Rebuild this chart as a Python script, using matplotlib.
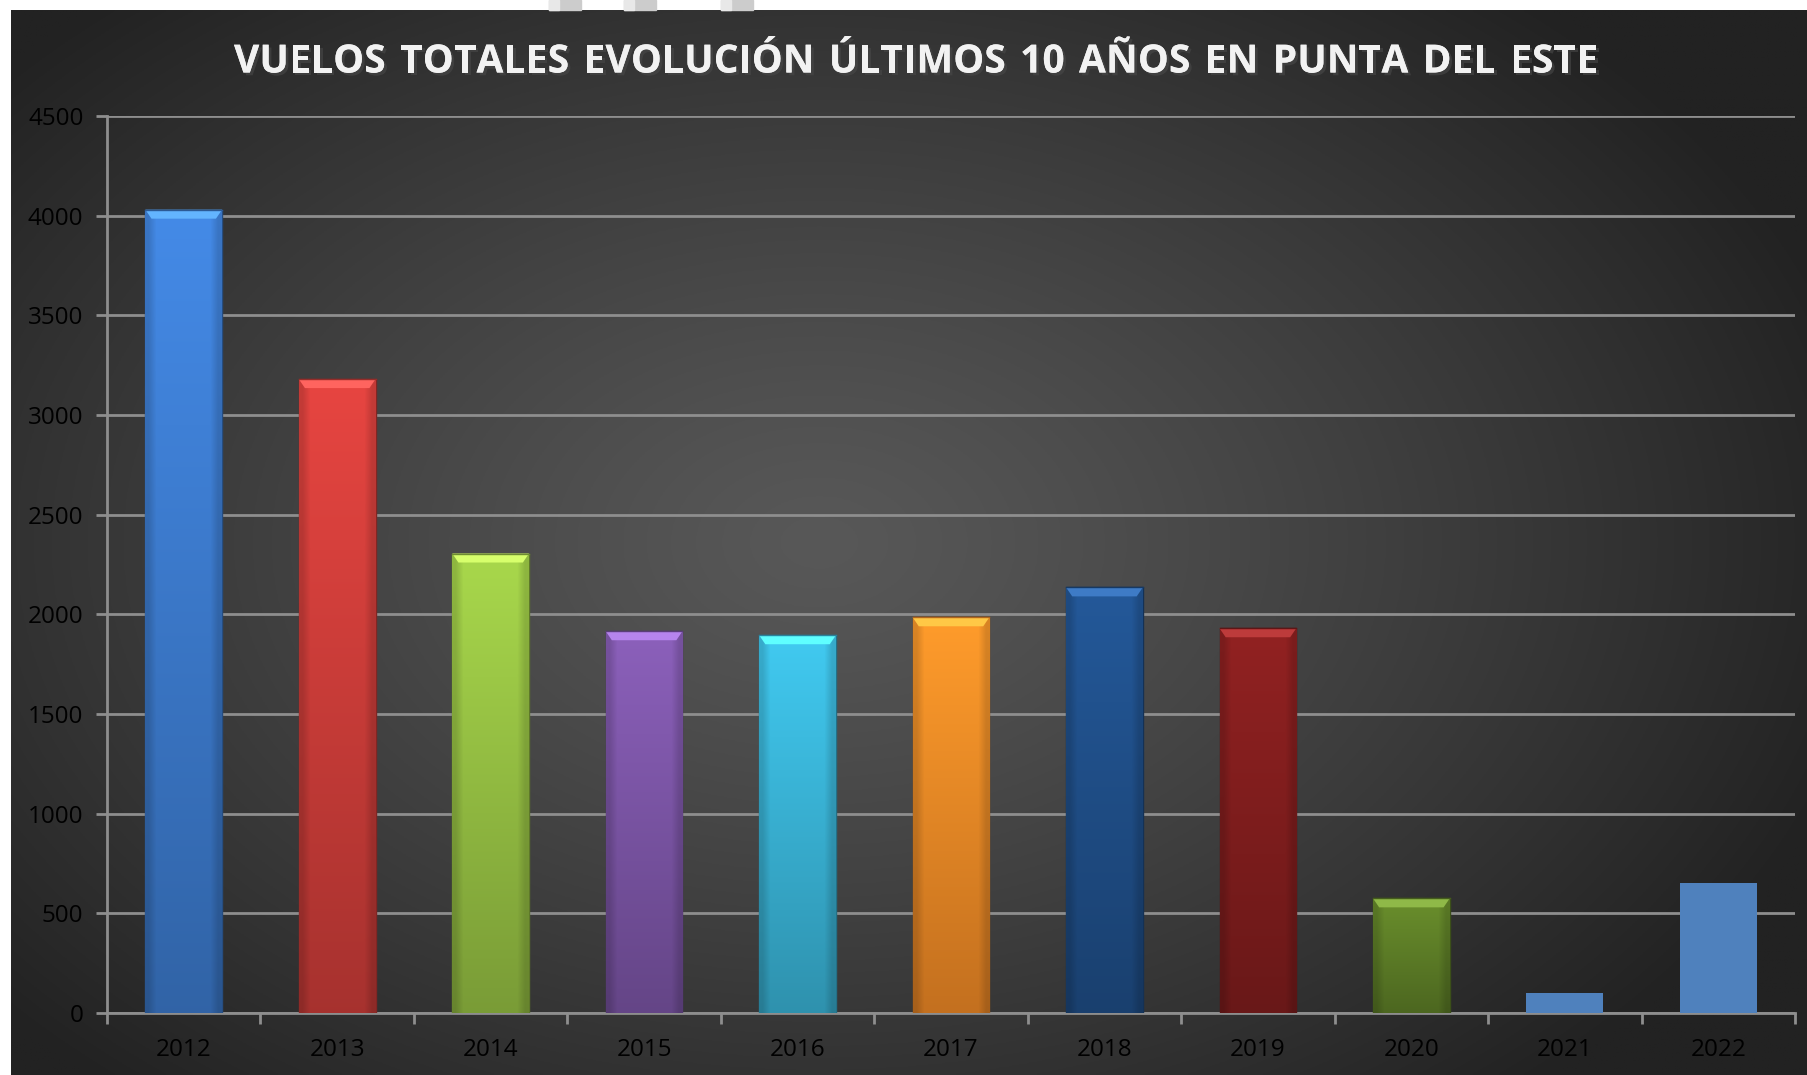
import matplotlib
matplotlib.use("Agg")
from matplotlib import pyplot as plt
from matplotlib import patheffects
from matplotlib.colors import to_rgb
import numpy as np

# datos
anios = ["2012", "2013", "2014", "2015", "2016", "2017", "2018", "2019", "2020", "2021", "2022"]
vuelos = [4030, 3180, 2305, 1915, 1895, 1985, 2135, 1930, 575, 98, 652]
colores = ["#3f80d6", "#d6403c", "#9cc846", "#8159ad", "#3cbbdf", "#fb9028",
           "#21528e", "#871f1f", "#628429", "#4f81bd", "#4f81bd"]
biselado = [True] * 9 + [False, False]

titulo = "VUELOS TOTALES EVOLUCIÓN ÚLTIMOS 10 AÑOS EN PUNTA DEL ESTE"

W, H = 1807, 1075
fig = plt.figure(figsize=(W / 100, H / 100), dpi=100)
fig.patch.set_facecolor("white")

# fondo oscuro con degradado radial
bg = fig.add_axes([11 / W, 0, 1 - 11 / W, 1 - 10 / H])
bg.set_axis_off()
yy, xx = np.mgrid[0:1:400j, 0:1:700j]
r = np.sqrt(((xx - 0.45) / 0.75) ** 2 + ((yy - 0.5) / 0.85) ** 2)
r = np.clip(r / 0.8, 0, 1) ** 1.2
c0 = np.array([0x58, 0x58, 0x58]) / 255
c1 = np.array([0x22, 0x22, 0x22]) / 255
img = c0[None, None, :] * (1 - r[..., None]) + c1[None, None, :] * r[..., None]
bg.imshow(img, aspect="auto", extent=[0, 1, 0, 1])
bg.set_xlim(0, 1)
bg.set_ylim(0, 1)

# bloques grises arriba
for x0 in [549, 624, 721]:
    fig.patches.append(plt.Rectangle((x0 / W, 1 - 10 / H), 32 / W, 10 / H,
                                     transform=fig.transFigure, color="#cccccc", zorder=0))
    fig.patches.append(plt.Rectangle((x0 / W, 1 - 10 / H), 10 / W, 10 / H,
                                     transform=fig.transFigure, color="#e8e8e8", zorder=0))

ax = fig.add_axes([107 / W, 1 - 1013 / H, (1795 - 107) / W, (1013 - 116) / H])
ax.patch.set_alpha(0)

x = np.arange(len(anios))
barras = ax.bar(x, vuelos, width=0.5, color=colores, zorder=3)

# degradado y biselado en las barras
for b, col, bis in zip(barras, colores, biselado):
    if not bis:
        continue
    rgb = np.array(to_rgb(col))
    g = np.linspace(0, 1, 100)[:, None]
    top = np.clip(rgb * 1.08, 0, 1)
    bot = rgb * 0.78
    grad = top[None, :] * (1 - g) + bot[None, :] * g
    grad = np.repeat(grad[:, None, :], 10, axis=1)
    edge = np.ones(10)
    edge[0] = edge[-1] = 0.85
    grad = grad * edge[None, :, None]
    x0, w, h = b.get_x(), b.get_width(), b.get_height()
    im = ax.imshow(grad, extent=[x0, x0 + w, 0, h], aspect="auto", zorder=4,
                   interpolation="bilinear")
    im.set_clip_path(b)
    b.set_edgecolor(tuple(rgb * 0.6))
    b.set_linewidth(1.0)
    # bisel superior
    bh = 4500 * 0.01
    ax.fill([x0, x0 + w, x0 + w - 0.04, x0 + 0.04], [h, h, h - bh, h - bh],
            color=tuple(np.clip(rgb * 1.25 + 0.08, 0, 1)), zorder=5, lw=0)
    ax.plot([x0, x0 + w], [h, h], color=tuple(rgb * 0.7), lw=1, zorder=6)

ax.set_xlim(-0.5, len(anios) - 0.5)
ax.set_ylim(0, 4500)
ax.set_yticks(np.arange(0, 4501, 500))
ax.set_xticks(x)
ax.set_xticklabels(anios)
ax.set_xticks(np.arange(-0.5, len(anios), 1), minor=True)

ax.grid(axis="y", color="#8e8e8e", lw=2, zorder=1)
for s in ["top", "right"]:
    ax.spines[s].set_visible(False)
for s in ["left", "bottom"]:
    ax.spines[s].set_color("#8e8e8e")
    ax.spines[s].set_linewidth(2)
ax.tick_params(axis="y", length=8, width=2, color="#8e8e8e", pad=9,
               labelsize=17.5, labelcolor="#000000")
ax.tick_params(axis="x", which="major", length=0, pad=18, labelsize=17.5,
               labelcolor="#000000")
ax.tick_params(axis="x", which="minor", length=8, width=2, color="#8e8e8e")
for lab in ax.get_xticklabels() + ax.get_yticklabels():
    lab.set_family(["Open Sans", "DejaVu Sans"])

# titulo con espaciado entre letras
renderer = fig.canvas.get_renderer()
props = dict(color="#f2f2f2", fontsize=28, fontweight="bold",
             family=["Open Sans", "DejaVu Sans"])
anchos = []
for ch in titulo:
    t = fig.text(0, 0, ch if ch != " " else "n", **props)
    e = t.get_window_extent(renderer)
    anchos.append(e.width * (0.55 if ch == " " else 1.0))
    t.remove()
x_ini, x_fin = 234, 1598
esp = (x_fin - x_ini - sum(anchos)) / (len(titulo) - 1)
xp = x_ini
for ch, a in zip(titulo, anchos):
    if ch != " ":
        fig.text(xp / W, 1 - 62 / H, ch, ha="left", va="center", **props,
                 path_effects=[patheffects.withSimplePatchShadow(offset=(2, -2), alpha=0.6),
                               patheffects.Normal()])
    xp += a + esp

fig.savefig("out.png", dpi=100, facecolor=fig.get_facecolor())
